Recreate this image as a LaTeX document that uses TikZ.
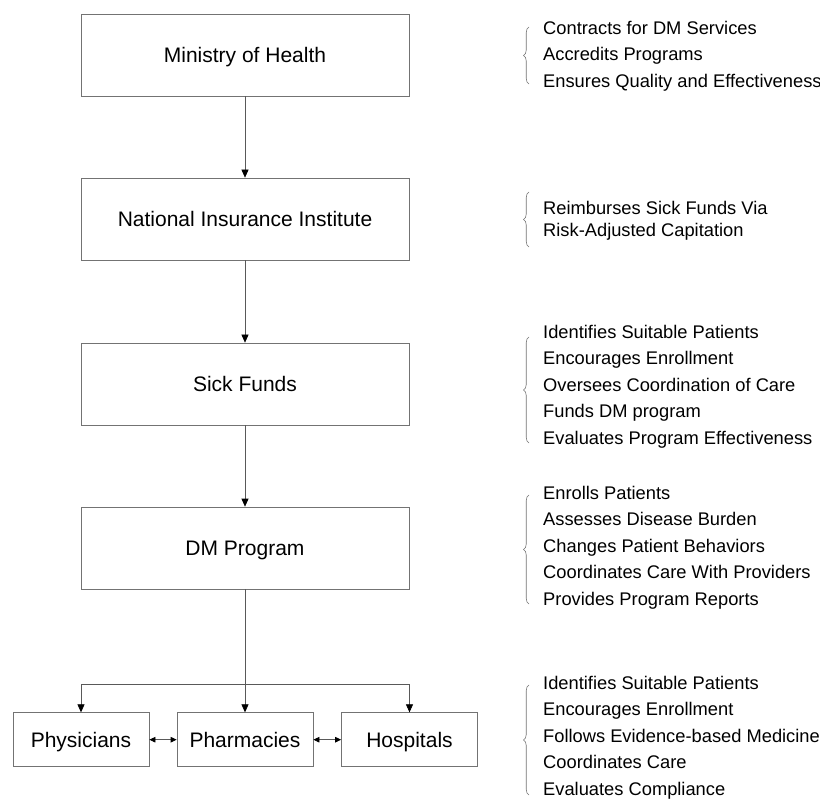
\documentclass[tikz,border=0pt]{standalone}
\usepackage{fontspec}
\setmainfont{Liberation Sans}
\usetikzlibrary{arrows.meta,decorations.pathreplacing}
\begin{document}
\begin{tikzpicture}[x=1pt,y=-1pt,
  box/.style={draw=black!55, line width=0.7pt, rectangle, inner sep=0pt, text height=15pt, text depth=0pt, font=\fontsize{21}{25}\selectfont},
  bigbox/.style={box, minimum width=328pt, minimum height=82pt},
  smallbox/.style={box, minimum width=136pt, minimum height=54pt},
  conn/.style={draw=black!65, line width=0.7pt, -{Triangle[length=8pt,width=7pt,color=black]}},
  dbl/.style={draw=black!65, line width=0.7pt, {Triangle[length=6pt,width=5.5pt,color=black]}-{Triangle[length=6pt,width=5.5pt,color=black]}},
  item/.style={anchor=base west, inner sep=0pt, font=\fontsize{18.3}{22}\selectfont},
  brc/.style={decorate, decoration={brace, amplitude=5.5pt, aspect=0.5}, draw=black!55, line width=0.6pt}
]
\useasboundingbox (0,0) rectangle (820,802);

% main boxes
\node[bigbox] (moh) at (245,55) {Ministry of Health};
\node[bigbox] (nii) at (245,219) {National Insurance Institute};
\node[bigbox] (sf)  at (245,384) {Sick Funds};
\node[bigbox] (dm)  at (245,548) {DM Program};

% bottom boxes
\node[smallbox] (phy) at (81,739.7) {Physicians};
\node[smallbox] (pha) at (245,739.7) {Pharmacies};
\node[smallbox] (hos) at (409.5,739.7) {Hospitals};

% connectors
\draw[conn] (moh) -- (nii);
\draw[conn] (nii) -- (sf);
\draw[conn] (sf) -- (dm);
\draw[conn] (dm) -- (pha);
\coordinate (jm) at (245,684);
\draw[conn] (jm) -| (phy.north);
\draw[conn] (jm) -| (hos.north);
\draw[dbl] (phy) -- (pha);
\draw[dbl] (pha) -- (hos);

% Ministry list
\node[item] (m1) at (543,34.3) {Contracts for DM Services};
\node[item] (m2) at (543,60.8) {Accredits Programs};
\node[item] (m3) at (543,87.3) {Ensures Quality and Effectiveness};
\coordinate (mb1) at (529,84);
\coordinate (mb2) at (529,27);
\draw[brc] (mb1) -- (mb2);

% NII list
\node[item] (n1) at (543,215) {Reimburses Sick Funds Via};
\node[item] (n2) at (543,236.7) {Risk-Adjusted Capitation};
\coordinate (nb1) at (529,247);
\coordinate (nb2) at (529,192);
\draw[brc] (nb1) -- (nb2);

% Sick Funds list
\node[item] (s1) at (543,338.3) {Identifies Suitable Patients};
\node[item] (s2) at (543,364.8) {Encourages Enrollment};
\node[item] (s3) at (543,391.3) {Oversees Coordination of Care};
\node[item] (s4) at (543,417.8) {Funds DM program};
\node[item] (s5) at (543,444.3) {Evaluates Program Effectiveness};
\coordinate (sb1) at (529,443);
\coordinate (sb2) at (529,337);
\draw[brc] (sb1) -- (sb2);

% DM list
\node[item] (d1) at (543,499) {Enrolls Patients};
\node[item] (d2) at (543,525.5) {Assesses Disease Burden};
\node[item] (d3) at (543,552) {Changes Patient Behaviors};
\node[item] (d4) at (543,578.5) {Coordinates Care With Providers};
\node[item] (d5) at (543,605) {Provides Program Reports};
\coordinate (db1) at (529,604);
\coordinate (db2) at (529,495);
\draw[brc] (db1) -- (db2);

% Providers list
\node[item] (p1) at (543,689) {Identifies Suitable Patients};
\node[item] (p2) at (543,715.5) {Encourages Enrollment};
\node[item] (p3) at (543,742) {Follows Evidence-based Medicine};
\node[item] (p4) at (543,768.5) {Coordinates Care};
\node[item] (p5) at (543,795) {Evaluates Compliance};
\coordinate (pb1) at (529,795);
\coordinate (pb2) at (529,685);
\draw[brc] (pb1) -- (pb2);
\end{tikzpicture}
\end{document}
